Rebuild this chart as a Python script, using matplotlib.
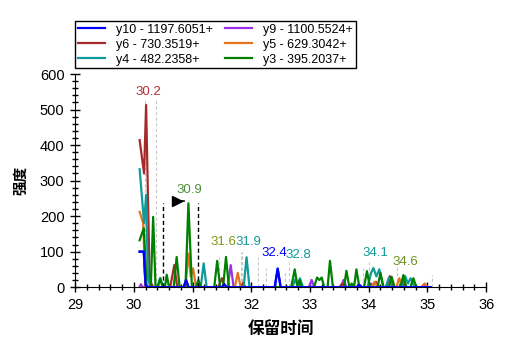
import matplotlib
matplotlib.use("Agg")
import matplotlib.pyplot as plt
from matplotlib.ticker import MultipleLocator

plt.rcParams['font.family'] = ['Liberation Sans', 'Noto Sans CJK SC', 'DejaVu Sans']

# ion traces: retention time (min) and intensity
y10_t = [30.10, 30.17, 30.20, 30.25, 30.85, 30.89, 30.93, 31.50, 31.54, 31.58,
         32.40, 32.45, 32.50, 33.80, 33.84, 33.88, 35.05]
y10_i = [100, 100, 5, 0, 0, 20, 0, 0, 8, 0, 0, 52, 0, 0, 6, 0, 0]

y9_t = [30.10, 30.12, 30.15, 31.60, 31.65, 31.70, 32.98, 33.03, 33.07,
        33.53, 33.57, 33.62, 34.00, 34.04, 34.08, 34.90, 34.95, 35.00]
y9_i = [0, 8, 0, 0, 62, 0, 0, 20, 0, 0, 20, 0, 0, 10, 0, 0, 8, 0]

y6_t = [30.10, 30.175, 30.21, 30.27, 30.33, 30.62, 30.69, 30.74, 31.44, 31.50,
        31.55, 31.82, 31.86, 31.90, 33.50, 33.55, 33.60, 34.05, 34.12, 34.18,
        34.30, 34.36, 34.42, 34.52, 34.57, 34.62, 35.05]
y6_i = [414, 320, 513, 20, 0, 0, 62, 0, 0, 25, 0, 0, 12, 0, 0, 10, 0, 0, 15, 0,
        0, 31, 0, 0, 20, 0, 0]

y5_t = [30.10, 30.16, 30.20, 30.88, 30.93, 30.97, 31.01, 31.06, 31.72, 31.77,
        31.82, 34.05, 34.10, 34.15, 34.47, 34.52, 34.57, 34.90, 34.95, 35.00]
y5_i = [212, 180, 0, 0, 95, 30, 53, 0, 0, 40, 0, 0, 15, 0, 0, 25, 0, 0, 10, 0]

y4_t = [30.10, 30.175, 30.21, 30.24, 30.28, 30.40, 30.45, 30.50, 31.14, 31.19,
        31.24, 31.87, 31.92, 31.97, 32.70, 32.75, 32.80, 32.83, 32.88, 33.98,
        34.04, 34.08, 34.13, 34.18, 34.25, 34.29, 34.34, 34.40, 34.55, 34.62,
        34.67, 34.71, 34.78, 35.05]
y4_i = [332, 180, 260, 28, 0, 0, 25, 0, 0, 67, 0, 0, 84, 0, 0, 22, 0, 25, 0, 0,
        40, 54, 30, 50, 0, 0, 26, 0, 0, 31, 10, 25, 0, 0]

y3_t = [30.10, 30.17, 30.22, 30.29, 30.33, 30.37, 30.41, 30.45, 30.49, 30.53,
        30.56, 30.60, 30.68, 30.73, 30.78, 30.88, 30.93, 30.99, 31.06, 31.10,
        31.14, 31.37, 31.42, 31.47, 31.52, 31.57, 31.62, 32.68, 32.74, 32.79,
        32.82, 32.86, 33.07, 33.12, 33.16, 33.20, 33.24, 33.30, 33.34, 33.39,
        33.58, 33.62, 33.67, 33.71, 33.75, 33.79, 33.84, 33.92, 33.97, 34.02,
        34.15, 34.20, 34.25, 34.34, 34.39, 34.44, 34.54, 34.59, 34.64, 34.71,
        34.76, 34.81, 35.05]
y3_i = [132, 166, 0, 0, 198, 0, 0, 25, 0, 0, 35, 0, 0, 85, 0, 0, 236, 0, 0, 20,
        0, 0, 74, 0, 0, 85, 0, 0, 50, 0, 20, 0, 0, 27, 20, 27, 0, 0, 74, 0,
        0, 46, 0, 10, 0, 50, 0, 0, 45, 0, 0, 40, 0, 0, 29, 0, 0, 34, 0, 0,
        25, 0, 0]

names = ['y10 - 1197.6051+', 'y9 - 1100.5524+', 'y6 - 730.3519+',
         'y5 - 629.3042+', 'y4 - 482.2358+', 'y3 - 395.2037+']
colors = ['#0000FF', '#9B30E8', '#A52A2A', '#E8731E', '#119A9A', '#008000']

# peak labels
lab_x = [30.24, 30.94, 31.52, 31.95, 32.40, 32.80, 34.11, 34.62]
lab_y = [549, 273, 127, 127, 96, 90, 96, 70]
lab_txt = ['30.2', '30.9', '31.6', '31.9', '32.4', '32.8', '34.1', '34.6']
lab_col = ['#B03030', '#4E8F3A', '#7A9A10', '#119A9A', '#0000FF', '#119A9A',
           '#119A9A', '#6A9020']

# light dashed peak markers
mark_x = [30.19, 30.38, 31.45, 31.82, 31.84, 32.12, 32.25, 32.58, 32.65,
          33.00, 33.90, 34.00, 34.48, 35.07]
mark_top = [527, 527, 85, 98, 98, 85, 55, 48, 70, 35, 55, 70, 62, 35]

fig = plt.figure(figsize=(5.07, 3.51), dpi=100)
ax = fig.add_axes([0.148, 0.182, 0.811, 0.607])

for x, top in zip(mark_x, mark_top):
    ax.plot([x, x], [0, top], color='#C8C8C8', lw=0.8, ls=(0, (3, 2)), zorder=1)

series = [(y10_t, y10_i), (y9_t, y9_i), (y6_t, y6_i),
          (y5_t, y5_i), (y4_t, y4_i), (y3_t, y3_i)]
handles = []
for (t, i), name, c in zip(series, names, colors):
    h, = ax.plot(t, i, color=c, lw=1.6, label=name, zorder=3)
    handles.append(h)
# blue baseline on top
ax.plot(y10_t, y10_i, color=colors[0], lw=1.6, zorder=4)

# integration window
for x in [30.50, 31.095]:
    ax.plot([x, x], [0, 237], color='black', lw=1, ls=(0, (3, 2)), zorder=5)
ax.plot([30.74, 30.85], [242, 242], color='black', lw=1.2, zorder=5)
ax.plot([30.74], [242], marker='>', color='black', ms=7, zorder=5)

for x, y, s, c in zip(lab_x, lab_y, lab_txt, lab_col):
    ax.text(x, y, s, color=c, fontsize=9.5, ha='center', va='center', zorder=6)

ax.set_xlim(29, 36)
ax.set_ylim(0, 600)
ax.xaxis.set_major_locator(MultipleLocator(1))
ax.xaxis.set_minor_locator(MultipleLocator(0.2))
ax.yaxis.set_major_locator(MultipleLocator(100))
ax.yaxis.set_minor_locator(MultipleLocator(20))
ax.tick_params(which='major', direction='inout', length=7.2, width=1,
               labelsize=10.5, pad=4)
ax.tick_params(which='minor', direction='inout', length=4.3, width=1)
ax.spines['top'].set_visible(False)
ax.spines['right'].set_visible(False)
ax.set_xlabel('保留时间', fontsize=12, fontweight='bold', labelpad=6,
              family=['Noto Sans CJK SC', 'DejaVu Sans'])
ax.set_ylabel('强度', fontsize=10.5, fontweight='bold', labelpad=8,
              family=['Noto Sans CJK SC', 'DejaVu Sans'])

order = [0, 2, 4, 1, 3, 5]
leg = fig.legend([handles[k] for k in order], [names[k] for k in order],
                 ncol=2, loc='upper left', bbox_to_anchor=(0.148, 0.94),
                 fontsize=9, handlelength=2.2, fancybox=False,
                 edgecolor='black', framealpha=1, borderaxespad=0,
                 borderpad=0.2, labelspacing=0.25, columnspacing=0.9,
                 handletextpad=0.9)
leg.get_frame().set_linewidth(1)

fig.savefig('out.png', dpi=100)
